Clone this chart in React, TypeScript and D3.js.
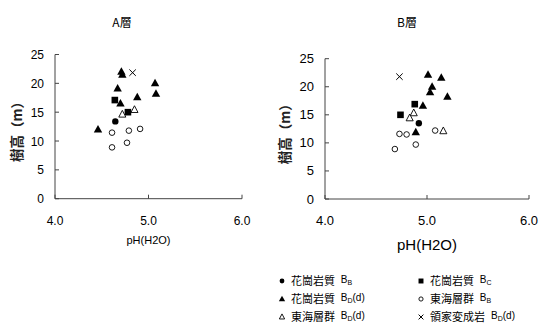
import React from "react";
import * as d3 from "d3";

// [pH, tree height (m)]
const aGranBB = [[4.645, 13.4]];
const aGranBC = [[4.64, 17.1], [4.78, 15.0]];
const aGranBD = [[4.71, 22.0], [4.72, 21.5], [4.67, 19.1], [5.07, 20.0], [5.08, 18.2], [4.88, 17.6], [4.7, 16.5], [4.46, 12.0]];
const aTokaiBB = [[4.61, 11.45], [4.79, 11.8], [4.91, 12.1], [4.61, 8.9], [4.77, 9.7]];
const aTokaiBD = [[4.72, 14.6], [4.85, 15.4]];
const aRyokeBD = [[4.83, 21.85]];

const bGranBB = [[4.92, 13.5]];
const bGranBC = [[4.88, 16.9], [4.74, 15.0]];
const bGranBD = [[5.01, 22.15], [5.14, 21.6], [5.05, 20.0], [5.03, 19.0], [5.2, 18.2], [4.96, 16.6], [4.89, 11.9]];
const bTokaiBB = [[4.73, 11.6], [4.8, 11.5], [5.08, 12.2], [4.89, 9.7], [4.685, 8.9]];
const bTokaiBD = [[4.87, 15.3], [4.83, 14.4], [5.16, 12.1]];
const bRyokeBD = [[4.73, 21.8]];

const xTicks = [4, 5, 6];
const yTicks = [0, 5, 10, 15, 20, 25];

const JP = "'Noto Sans CJK JP', sans-serif";
const LAT = "'Liberation Sans', Arial, sans-serif";
const AX = "#444";

type Kind = "dot" | "square" | "tri" | "circle" | "otri" | "cross";

function Marker({ kind, x, y, s = 1 }: { kind: Kind; x: number; y: number; s?: number }) {
  if (kind === "dot") return <circle cx={x} cy={y} r={3.2 * s} fill="#000" />;
  if (kind === "square") return <rect x={x - 3.3 * s} y={y - 3.3 * s} width={6.6 * s} height={6.6 * s} fill="#000" />;
  if (kind === "circle") return <circle cx={x} cy={y} r={2.8 * s} fill="#fff" stroke="#000" strokeWidth={0.9} />;
  if (kind === "tri" || kind === "otri") {
    const h = 7.5 * s, w = 8.4 * s;
    const p = `${x},${y - h * 0.6} ${x - w / 2},${y + h * 0.4} ${x + w / 2},${y + h * 0.4}`;
    return kind === "tri"
      ? <polygon points={p} fill="#000" />
      : <polygon points={`${x},${y - h * 0.55} ${x - w * 0.42},${y + h * 0.35} ${x + w * 0.42},${y + h * 0.35}`} fill="#fff" stroke="#000" strokeWidth={0.9} />;
  }
  const c = 3.2 * s;
  return (
    <g stroke="#000" strokeWidth={1}>
      <line x1={x - c} y1={y - c} x2={x + c} y2={y + c} />
      <line x1={x - c} y1={y + c} x2={x + c} y2={y - c} />
    </g>
  );
}

function Panel({ title, x0, x1, y0, y1, series, tickSize, labSize, ylabX, titleX, xlabY }: any) {
  const x = d3.scaleLinear().domain([4, 6]).range([x0, x1]);
  const y = d3.scaleLinear().domain([0, 25]).range([y1, y0]);
  const ylabY = (y0 + y1) / 2 + 2;
  return (
    <g>
      <text x={titleX} y={27} textAnchor="middle" fontSize={12} fontFamily={JP}>{title}</text>
      <line x1={x0} y1={y(25)} x2={x0} y2={y(0)} stroke={AX} />
      <line x1={x0} y1={y(0)} x2={x1} y2={y(0)} stroke={AX} />
      {yTicks.map((t) => (
        <g key={"y" + t}>
          <line x1={x0} x2={x0 + 4} y1={y(t)} y2={y(t)} stroke={AX} />
          <text x={x0 - 11} y={y(t) + 4.5} textAnchor="end" fontSize={tickSize} fontFamily={LAT}>{t}</text>
        </g>
      ))}
      {xTicks.map((t) => (
        <g key={"x" + t}>
          <line x1={x(t)} x2={x(t)} y1={y(0)} y2={y(0) - 4} stroke={AX} />
          <text x={x(t)} y={y(0) + 26} textAnchor="middle" fontSize={tickSize} fontFamily={LAT}>{t.toFixed(1)}</text>
        </g>
      ))}
      <text transform={`translate(${ylabX},${ylabY}) rotate(-90)`} textAnchor="middle" fontSize={13.5} fontWeight={600} fontFamily={JP} fill="#222">樹高（m）</text>
      <text x={(x0 + x1) / 2} y={xlabY} textAnchor="middle" fontSize={labSize} fontFamily={LAT}>pH(H2O)</text>
      {series.map(([kind, pts]: [Kind, number[][]], i: number) =>
        pts.map((d, j) => <Marker key={i + "-" + j} kind={kind} x={x(d[0])} y={y(d[1])} />)
      )}
    </g>
  );
}

const legendItems: [Kind, string, string, string][] = [
  ["dot", "花崗岩質", "B", ""],
  ["square", "花崗岩質", "C", ""],
  ["tri", "花崗岩質", "D", "(d)"],
  ["circle", "東海層群", "B", ""],
  ["otri", "東海層群", "D", "(d)"],
  ["cross", "領家変成岩", "D", "(d)"],
];

export default function App() {
  const aSeries = [["dot", aGranBB], ["square", aGranBC], ["tri", aGranBD], ["circle", aTokaiBB], ["otri", aTokaiBD], ["cross", aRyokeBD]];
  const bSeries = [["dot", bGranBB], ["square", bGranBC], ["tri", bGranBD], ["circle", bTokaiBB], ["otri", bTokaiBD], ["cross", bRyokeBD]];
  return (
    <svg width={541} height={332} style={{ position: "absolute", left: 0, top: 0, background: "#fff" }}>
      <rect width={541} height={332} fill="#fff" />
      <Panel title="A層" titleX={122} x0={55} x1={242} y0={54.5} y1={198.7} series={aSeries} tickSize={12} labSize={11} ylabX={22} xlabY={244} />
      <Panel title="B層" titleX={407} x0={325} x1={529} y0={58.7} y1={199} series={bSeries} tickSize={13} labSize={15} ylabX={290} xlabY={250} />
      {legendItems.map(([k, name, sub, tail], i) => {
        const col = i % 2, row = Math.floor(i / 2);
        const mx = col === 0 ? 282 : 421;
        const my = 281 + row * 18;
        const textW = name.length * 11.2;
        return (
          <g key={i}>
            <Marker kind={k} x={mx} y={my} s={0.75} />
            <text x={mx + 9} y={my + 4} fontSize={11} fontFamily={JP}>{name}</text>
            <text x={mx + 9 + textW + 5} y={my + 2} fontSize={10} fontFamily={LAT}>
              B<tspan fontSize={7} dy={2}>{sub}</tspan>
              {tail && <tspan dy={-2} fontSize={10}>{tail}</tspan>}
            </text>
          </g>
        );
      })}
    </svg>
  );
}
